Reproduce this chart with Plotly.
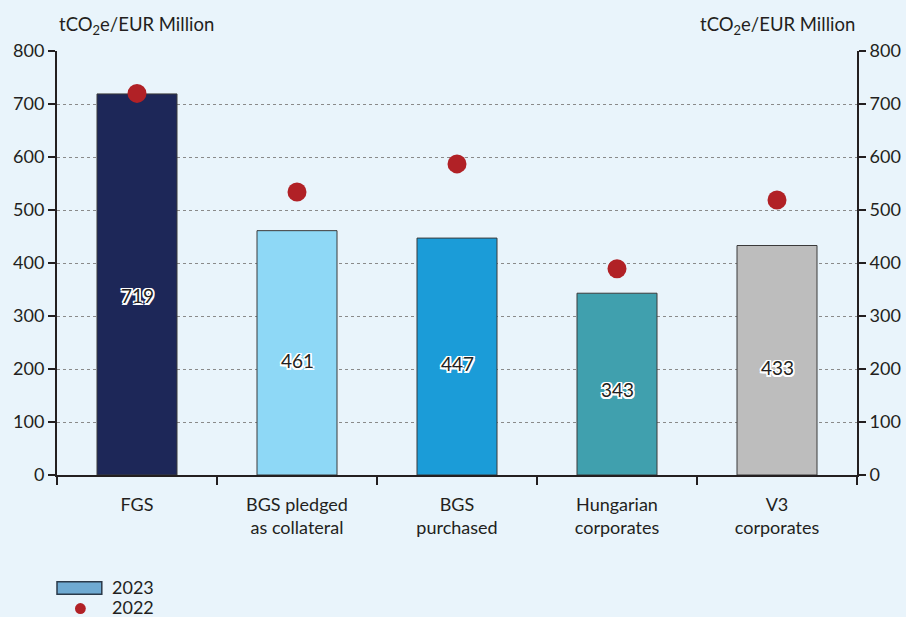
import plotly.graph_objects as go

# Carbon intensity of portfolios, tCO2e per EUR million
categories = ["FGS", "BGS pledged<br>as collateral", "BGS<br>purchased",
              "Hungarian<br>corporates", "V3<br>corporates"]
values_2023 = [719, 461, 447, 343, 433]
values_2022 = [720, 534, 587, 389, 519]
bar_colors = ["#1D2758", "#8ED8F6", "#1B9CD8", "#40A0AE", "#BDBDBD"]
y_ticks = [0, 100, 200, 300, 400, 500, 600, 700, 800]

FONT = "Lato"
TXT = "#231F20"
BG = "#E9F4FB"

fig = go.Figure()

fig.add_trace(go.Bar(
    x=categories, y=values_2023, name="2023",
    marker=dict(color=bar_colors, line=dict(color="#3A3A3A", width=1)),
    width=0.5, showlegend=False, hoverinfo="skip",
))

fig.add_trace(go.Scatter(
    x=categories, y=values_2022, name="2022", mode="markers",
    marker=dict(color="#B12126", size=19, line=dict(width=0)),
    showlegend=False, hoverinfo="skip",
))

# Invisible trace so the secondary axis is drawn
fig.add_trace(go.Scatter(x=categories, y=values_2023, yaxis="y2",
                         mode="markers", marker=dict(opacity=0),
                         showlegend=False, hoverinfo="skip"))

# Value labels with a white halo, placed inside each bar
halo = ("-1.5px -1.5px 0 #fff, 1.5px -1.5px 0 #fff, -1.5px 1.5px 0 #fff, "
        "1.5px 1.5px 0 #fff, 0 1.5px 0 #fff, 0 -1.5px 0 #fff, 1.5px 0 0 #fff, -1.5px 0 0 #fff")
for c, v in zip(categories, values_2023):
    fig.add_annotation(x=c, y=v * 0.47, text=str(v), showarrow=False,
                       font=dict(family=FONT, size=19, color=TXT, shadow=halo))

axis_common = dict(
    range=[0, 800], tickvals=y_ticks, ticks="outside", ticklen=7, tickwidth=2,
    tickcolor="#231F20", showline=True, linecolor="#231F20", linewidth=2,
    tickfont=dict(family=FONT, size=18, color=TXT), zeroline=False,
    automargin=False,
)

fig.update_layout(
    width=906, height=617,
    paper_bgcolor=BG, plot_bgcolor=BG,
    margin=dict(l=57, r=49, t=51, b=142, autoexpand=False),
    bargap=0.5,
    xaxis=dict(
        type="category", tickson="boundaries", ticks="outside", ticklen=8,
        tickwidth=2, tickcolor="#231F20", showline=True, linecolor="#231F20",
        linewidth=2, showgrid=False, ticklabelstandoff=12, automargin=False,
        tickfont=dict(family=FONT, size=18, color=TXT),
    ),
    yaxis=dict(**axis_common, showgrid=True, gridcolor="#8A8A8A",
               griddash="dot", gridwidth=1),
    yaxis2=dict(**axis_common, overlaying="y", side="right", showgrid=False),
    showlegend=False,
)

# Axis unit captions
for xp, anchor in [(0.0, "left"), (1.0, "right")]:
    fig.add_annotation(xref="paper", yref="paper", x=xp, y=1.0, yshift=11,
                       xanchor=anchor, yanchor="bottom", showarrow=False,
                       text="tCO<sub>2</sub>e/EUR Million",
                       font=dict(family=FONT, size=18.5, color=TXT))

# Legend drawn below the chart
fig.add_shape(type="rect", xref="paper", yref="paper",
              x0=0.0, x1=0.056, y0=-0.252, y1=-0.281,
              fillcolor="#6FAAD2", line=dict(color="#2B3A4A", width=1.5))
fig.add_shape(type="circle", xref="paper", yref="paper",
              x0=0.0225, x1=0.036, y0=-0.302, y1=-0.328,
              fillcolor="#B12126", line=dict(width=0))
for yp, t in [(-0.264, "2023"), (-0.312, "2022")]:
    fig.add_annotation(xref="paper", yref="paper", x=0.066, y=yp, text=t,
                       xanchor="left", yanchor="middle", showarrow=False,
                       font=dict(family=FONT, size=18, color=TXT))

fig.write_html("out.html")
